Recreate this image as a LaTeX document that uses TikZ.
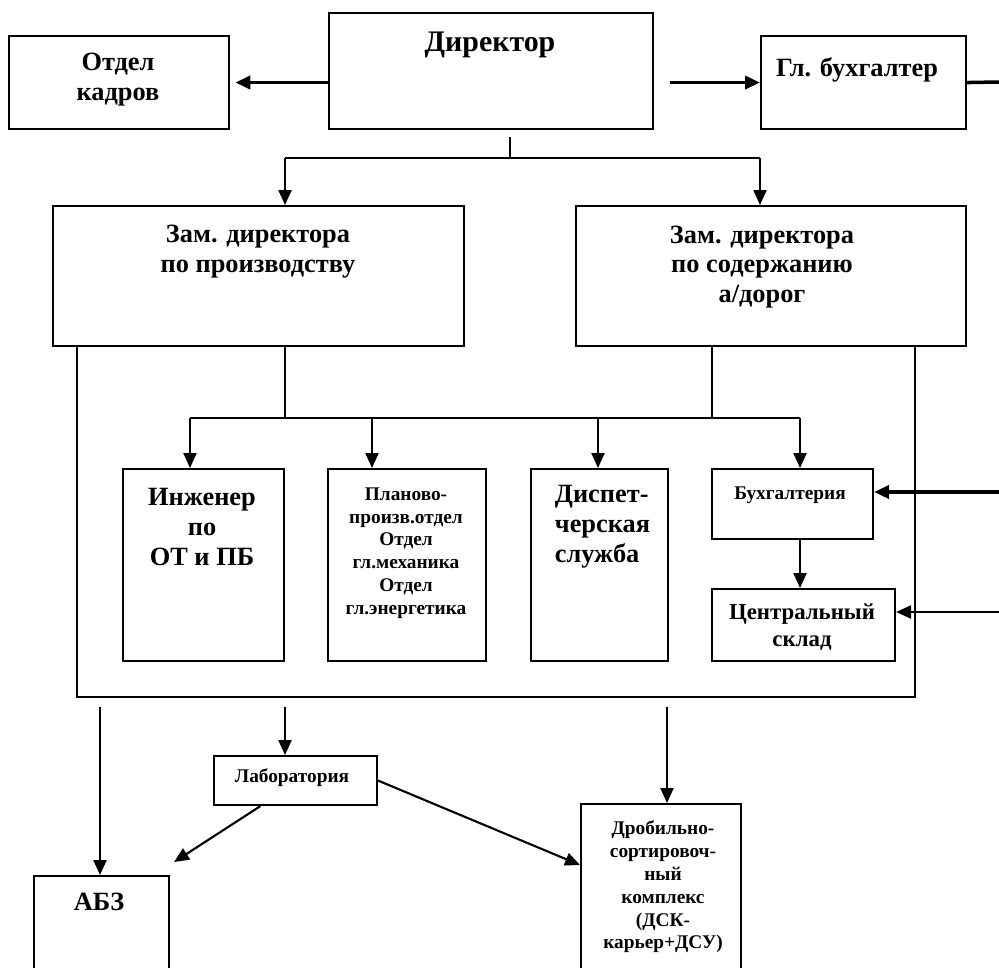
\documentclass[tikz,border=0pt]{standalone}
\usepackage{fontspec}
\setmainfont{Liberation Serif}
\usetikzlibrary{arrows.meta, positioning}

\begin{document}
\begin{tikzpicture}[x=0.02cm, y=-0.02cm, line width=1.2pt, font=\bfseries,
		box/.style={draw, rectangle, anchor=north west, inner sep=0pt},
		big/.style={font=\bfseries\fontsize{15}{17}\selectfont, align=center},
		mid/.style={font=\bfseries\fontsize{13}{15.5}\selectfont, align=center},
		sml/.style={font=\bfseries\fontsize{11}{13}\selectfont, align=center},
		heavy/.style={line width=2pt},
		arr/.style={-{Triangle[length=8.5pt, width=7.4pt]}},
		fat/.style={arr, heavy}]
		\clip (0,0) rectangle (999,967);

		% boxes
		\node[box, minimum width=6.48cm, minimum height=2.32cm] (dir) at (328,12) {};
		\node[box, minimum width=4.4cm, minimum height=1.86cm] (kadry) at (8,35) {};
		\node[box, minimum width=4.1cm, minimum height=1.86cm] (glbuh) at (760,35) {};
		\node[box, minimum width=8.22cm, minimum height=2.8cm] (zam1) at (52,205) {};
		\node[box, minimum width=7.8cm, minimum height=2.8cm] (zam2) at (575,205) {};
		\node[box, minimum width=3.22cm, minimum height=3.84cm] (inzh) at (122,468) {};
		\node[box, minimum width=3.16cm, minimum height=3.84cm] (plan) at (327,468) {};
		\node[box, minimum width=2.74cm, minimum height=3.84cm] (disp) at (530,468) {};
		\node[box, minimum width=3.22cm, minimum height=1.4cm] (buhg) at (711,468) {};
		\node[box, minimum width=3.66cm, minimum height=1.44cm] (sklad) at (711,588) {};
		\node[box, minimum width=3.26cm, minimum height=0.98cm] (lab) at (213,755) {};
		\node[box, minimum width=2.7cm, minimum height=4cm] (abz) at (33,875) {};
		\node[box, minimum width=3.2cm, minimum height=4cm] (drob) at (580,803) {};

		% texts
		\node[big, font=\bfseries\fontsize{17}{20}\selectfont] (dirT) at (490,45) {Директор};
		\node[big] (kadryT) at (118,80) {Отдел\\кадров};
		\node[big] (glbuhT) at (857,70) {Гл. бухгалтер};
		\node[big] (zam1T) at (258,252) {Зам. директора\\по производству};
		\node[big] (zam2T) at (762,267) {Зам. директора\\по содержанию\\а/дорог};
		\node[big] (inzhT) at (202,527) {Инженер\\по\\ОТ и ПБ};
		\node[sml] (planT) at (406,553) {Планово-\\произв.отдел\\Отдел\\гл.механика\\Отдел\\гл.энергетика};
		\node[big, align=left, anchor=west] (dispT) at (548,527) {Диспет-\\черская\\служба};
		\node[sml] (buhgT) at (790,495) {Бухгалтерия};
		\node[mid] (skladT) at (802,627) {Центральный\\склад};
		\node[sml] (labT) at (292,778) {Лаборатория};
		\node[big] (abzT) at (99,902) {АБЗ};
		\node[sml] (drobT) at (663,887) {Дробильно-\\сортировоч-\\ный\\комплекс\\(ДСК-\\карьер+ДСУ)};

		% top row
		\draw[fat, shorten >=3pt] (kadry.east -| dir.west) -- (kadry.east);
		\draw[fat, shorten <=0.32cm] (glbuh.west -| dir.east) -- (glbuh.west);
		\coordinate (eR) at (999,82);
		\draw[heavy] (glbuh.east) -- (eR);

		\coordinate (j0) at (510,158);
		\coordinate (bL) at (285,158);
		\coordinate (bR) at (760,158);
		\draw[shorten <=0.14cm] (dir.south -| j0) -- (j0);
		\draw (bL) -- (bR);
		\draw[arr] (bL) -- (bL |- zam1.north);
		\draw[arr] (bR) -- (bR |- zam2.north);

		% frame round the departments
		\coordinate (fL) at (77,697);
		\coordinate (fR) at (915,697);
		\draw (fL |- zam1.south) -- (fL) -- (fR) -- (fR |- zam2.south);

		\coordinate (m1) at (285,418);
		\coordinate (m2) at (712,418);
		\draw (m1 |- zam1.south) -- (m1);
		\draw (m2 |- zam2.south) -- (m2);
		\coordinate (d1) at (190,418);
		\coordinate (d2) at (372,418);
		\coordinate (d3) at (598,418);
		\coordinate (d4) at (800,418);
		\draw (d1) -- (d4);
		\draw[arr] (d1) -- (d1 |- inzh.north);
		\draw[arr] (d2) -- (d2 |- plan.north);
		\draw[arr] (d3) -- (d3 |- disp.north);
		\draw[arr] (d4) -- (d4 |- buhg.north);
		\draw[arr] (buhg.south -| d4) -- (d4 |- sklad.north);

		\coordinate (eB) at (999,492);
		\coordinate (eS) at (999,612);
		\draw[fat] (eB) -- (eB -| buhg.east);
		\draw[arr] (eS) -- (eS -| sklad.east);

		% bottom
		\coordinate (s1) at (100,707);
		\coordinate (s2) at (285,707);
		\coordinate (s3) at (667,707);
		\draw[arr] (s1) -- (s1 |- abz.north);
		\draw[arr] (s2) -- (s2 |- lab.north);
		\draw[arr] (s3) -- (s3 |- drob.north);
		\draw[arr] (lab.216) -- ([shift={(0.08cm,0.26cm)}]abz.north east);
		\draw[arr] (lab.east) -- ([yshift=-1.24cm]drob.north west);
\end{tikzpicture}
\end{document}
